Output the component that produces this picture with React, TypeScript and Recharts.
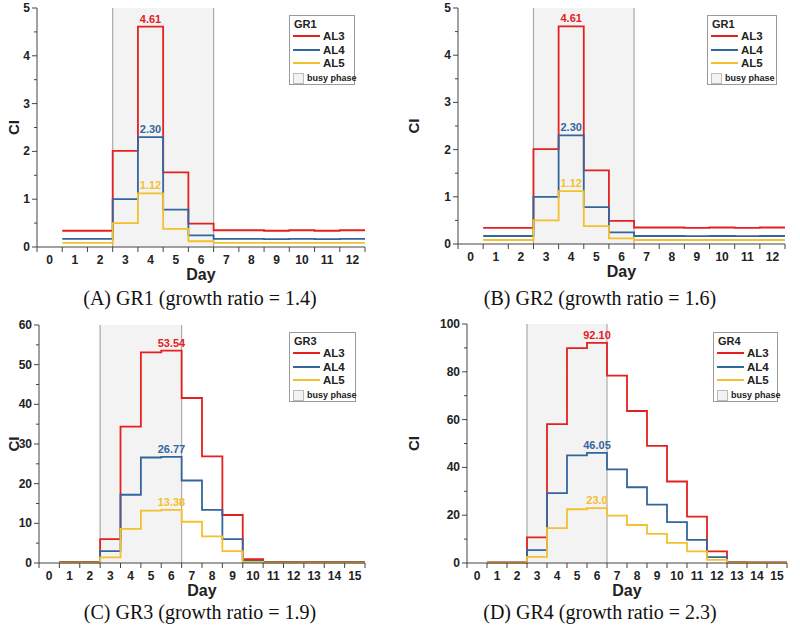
import React from "react";
import {
  LineChart,
  Line,
  XAxis,
  YAxis,
  ReferenceArea,
  ReferenceLine,
  ReferenceDot,
} from "recharts";

// CI values per day (day 1 .. n)
const gr1Al3 = [0.34, 0.34, 2.01, 4.61, 1.56, 0.49, 0.35, 0.35, 0.34, 0.35, 0.34, 0.35];
const gr1Al4 = [0.17, 0.17, 1.0, 2.3, 0.78, 0.245, 0.17, 0.17, 0.165, 0.17, 0.165, 0.17];
const gr1Al5 = [0.085, 0.085, 0.5, 1.12, 0.38, 0.12, 0.085, 0.085, 0.085, 0.085, 0.085, 0.085];

const gr3Al3 = [0.3, 0.3, 6.0, 34.4, 53.1, 53.54, 41.6, 26.9, 12.1, 1.0, 0.3, 0.3, 0.3, 0.3, 0.3];
const gr3Al4 = [0.15, 0.15, 3.0, 17.2, 26.6, 26.77, 20.8, 13.4, 6.0, 0.5, 0.15, 0.15, 0.15, 0.15, 0.15];
const gr3Al5 = [0.08, 0.08, 1.4, 8.6, 13.2, 13.38, 10.4, 6.7, 3.0, 0.25, 0.08, 0.08, 0.08, 0.08, 0.08];

const gr4Al3 = [0.3, 0.3, 10.7, 58.1, 89.9, 92.1, 78.4, 63.6, 49.0, 34.1, 19.4, 4.9, 0.4, 0.3, 0.3];
const gr4Al4 = [0.15, 0.15, 5.4, 29.2, 45.0, 46.05, 39.2, 31.7, 24.4, 17.1, 9.7, 2.5, 0.2, 0.15, 0.15];
const gr4Al5 = [0.08, 0.08, 2.6, 14.6, 22.5, 23.0, 19.8, 15.9, 12.2, 8.4, 4.9, 1.3, 0.1, 0.08, 0.08];

const peakLabelsGr1 = ["4.61", "2.30", "1.12"];
const peakLabelsGr3 = ["53.54", "26.77", "13.38"];
const peakLabelsGr4 = ["92.10", "46.05", "23.0"];

const busyPhase = [2.5, 6.5];
const seriesNames = ["AL3", "AL4", "AL5"];
const seriesKeys = ["al3", "al4", "al5"];
const COLORS = ["#e3211f", "#33669d", "#f4c02c"];

const SANS = "'Liberation Sans', Arial, sans-serif";

const panels = [
  {
    key: "A", caption: "(A) GR1 (growth ratio = 1.4)", legendTitle: "GR1",
    al3: gr1Al3, al4: gr1Al4, al5: gr1Al5, labels: peakLabelsGr1, peakDay: 4,
    yMax: 5, yStep: 1, pos: { x: 0, y: 0 },
    plot: { left: 37, right: 365, top: 8, bottom: 247 },
    legend: { x: 289, y: 15, w: 66 }, captionY: 287,
  },
  {
    key: "B", caption: "(B) GR2 (growth ratio = 1.6)", legendTitle: "GR1",
    al3: gr1Al3, al4: gr1Al4, al5: gr1Al5, labels: peakLabelsGr1, peakDay: 4,
    yMax: 5, yStep: 1, pos: { x: 400, y: 0 },
    plot: { left: 58, right: 385, top: 8, bottom: 244 },
    legend: { x: 307, y: 15, w: 70 }, captionY: 287,
  },
  {
    key: "C", caption: "(C) GR3 (growth ratio = 1.9)", legendTitle: "GR3",
    al3: gr3Al3, al4: gr3Al4, al5: gr3Al5, labels: peakLabelsGr3, peakDay: 6,
    yMax: 60, yStep: 10, pos: { x: 0, y: 320 },
    plot: { left: 39, right: 365, top: 5, bottom: 243 },
    legend: { x: 289, y: 12, w: 67 }, captionY: 601,
  },
  {
    key: "D", caption: "(D) GR4 (growth ratio = 2.3)", legendTitle: "GR4",
    al3: gr4Al3, al4: gr4Al4, al5: gr4Al5, labels: peakLabelsGr4, peakDay: 6,
    yMax: 100, yStep: 20, pos: { x: 400, y: 320 },
    plot: { left: 67, right: 387, top: 4, bottom: 243 },
    legend: { x: 313, y: 12, w: 65 }, captionY: 601,
  },
];

function XTick(props: any) {
  const { x, y, payload } = props;
  if (Number.isInteger(payload.value)) {
    return (
      <text x={x} y={y + 12} textAnchor="middle" fontSize={12} fontWeight={700} fill="#222" fontFamily={SANS}>
        {payload.value}
      </text>
    );
  }
  return <line x1={x} x2={x} y1={y - 5} y2={y} stroke="#444" strokeWidth={1} />;
}

function TopTick(props: any) {
  const { x, y, payload } = props;
  if (Number.isInteger(payload.value)) return null;
  return <line x1={x} x2={x} y1={y} y2={y + 4} stroke="#444" strokeWidth={1} />;
}

function makeYTick(step: number) {
  return function YTick(props: any) {
    const { x, y, payload } = props;
    const major = Math.abs(payload.value / step - Math.round(payload.value / step)) < 1e-6;
    if (!major) return <line x1={x + 2} x2={x + 5} y1={y} y2={y} stroke="#444" />;
    return (
      <g>
        <line x1={x} x2={x + 5} y1={y} y2={y} stroke="#444" />
        <text x={x - 2} y={y + 4} textAnchor="end" fontSize={12} fontWeight={700} fill="#222" fontFamily={SANS}>
          {payload.value}
        </text>
      </g>
    );
  };
}

function makeRightTick(step: number) {
  return function RightTick(props: any) {
    const { x, y, payload } = props;
    const major = Math.abs(payload.value / step - Math.round(payload.value / step)) < 1e-6;
    return <line x1={x - (major ? 5 : 3)} x2={x} y1={y} y2={y} stroke="#444" />;
  };
}

function YTitle(props: any) {
  const { viewBox } = props;
  const cx = viewBox.x + 13;
  const cy = viewBox.y + viewBox.height / 2;
  return (
    <text x={cx} y={cy} transform={`rotate(-90, ${cx}, ${cy})`} textAnchor="middle" dominantBaseline="central"
      fontSize={15} fontWeight={700} fill="#222" fontFamily={SANS}>
      CI
    </text>
  );
}

function XTitle(props: any) {
  const { viewBox } = props;
  return (
    <text x={viewBox.x + viewBox.width / 2} y={viewBox.y + 33} textAnchor="middle" fontSize={16} fontWeight={700}
      fill="#222" fontFamily={SANS}>
      Day
    </text>
  );
}

// rows of the legend box: title, three series, busy phase swatch
const legendRowTops = [2, 14, 27.5, 41, 56];

function LegendBox({ title, box }: { title: string; box: { x: number; y: number; w: number } }) {
  const row = { position: "absolute" as const, left: 3, display: "flex", alignItems: "center", lineHeight: "12px", height: 12 };
  return (
    <div style={{
      position: "absolute", left: box.x, top: box.y, width: box.w, height: 70, boxSizing: "border-box",
      border: "1px solid #9a9a9a", background: "#fff", fontFamily: SANS, fontWeight: 700, color: "#222",
      whiteSpace: "nowrap",
    }}>
      <div style={{ ...row, left: 4, top: legendRowTops[0], fontSize: 11 }}>{title}</div>
      {seriesNames.map((n, i) => (
        <div key={n} style={{ ...row, top: legendRowTops[i + 1], fontSize: 11.5 }}>
          <span style={{ display: "inline-block", width: 27, height: 2, background: COLORS[i], marginRight: 3 }} />
          {n}
        </div>
      ))}
      <div style={{ ...row, top: legendRowTops[4], fontSize: 9 }}>
        <span style={{ display: "inline-block", width: 9, height: 9, border: "1px solid #bbb", background: "#f3f3f3", marginRight: 3 }} />
        busy phase
      </div>
    </div>
  );
}

function Panel({ cfg }: { cfg: any }) {
  const n = cfg.al3.length;
  const data = cfg.al3.map((v: number, i: number) => ({ x: i + 0.5, al3: v, al4: cfg.al4[i], al5: cfg.al5[i] }));
  data.push({ x: n + 0.5, al3: cfg.al3[n - 1], al4: cfg.al4[n - 1], al5: cfg.al5[n - 1] });

  const xTicks: number[] = [];
  for (let d = 0; d <= n; d++) xTicks.push(d);
  for (let d = 0; d <= n; d++) xTicks.push(d - 0.5);
  xTicks.push(n + 0.5);
  const yTicks: number[] = [];
  for (let v = 0; v <= cfg.yMax + 1e-9; v += cfg.yStep / 2) yTicks.push(+v.toFixed(3));

  const height = cfg.plot.bottom + 40;
  const peakIdx = cfg.peakDay - 1;

  return (
    <div style={{ position: "absolute", left: cfg.pos.x, top: cfg.pos.y, width: 400, height: 315 }}>
      <LineChart width={400} height={height} data={data}
        margin={{ top: cfg.plot.top, right: 400 - cfg.plot.right, left: 0, bottom: 0 }}>
        <XAxis dataKey="x" type="number" domain={[-0.5, n + 0.5]} ticks={xTicks} interval={0}
          tick={<XTick />} tickLine={false} tickSize={5} tickMargin={0} height={40}
          axisLine={{ stroke: "#444" }} label={<XTitle />} />
        <XAxis xAxisId="top" orientation="top" dataKey="x" type="number" domain={[-0.5, n + 0.5]} ticks={xTicks}
          interval={0} tick={<TopTick />} tickLine={false} tickSize={0} tickMargin={0} height={0}
          axisLine={{ stroke: "#444" }} />
        <YAxis type="number" domain={[0, cfg.yMax]} ticks={yTicks} interval={0} width={cfg.plot.left}
          tick={makeYTick(cfg.yStep)} tickLine={false} tickSize={5} tickMargin={0}
          axisLine={{ stroke: "#444" }} label={<YTitle />} />
        <YAxis yAxisId="right" orientation="right" type="number" domain={[0, cfg.yMax]} ticks={yTicks} interval={0}
          width={0} tick={makeRightTick(cfg.yStep)} tickLine={false} tickSize={0} tickMargin={0}
          axisLine={{ stroke: "#444" }} />
        <ReferenceArea x1={busyPhase[0]} x2={busyPhase[1]} fill="#f3f3f3" fillOpacity={1} stroke="none" />
        <ReferenceLine x={busyPhase[0]} stroke="#aaaaaa" strokeWidth={1.2} />
        <ReferenceLine x={busyPhase[1]} stroke="#aaaaaa" strokeWidth={1.2} />
        {seriesKeys.map((k, i) => (
          <Line key={k} type="stepAfter" dataKey={k} stroke={COLORS[i]} strokeWidth={1.8} dot={false}
            activeDot={false} isAnimationActive={false} />
        ))}
        {seriesKeys.map((k, i) => (
          <ReferenceDot key={"p" + k} x={cfg.peakDay} y={cfg[k][peakIdx]} r={1} fill="none" stroke="none"
            label={{ value: cfg.labels[i], position: "top", offset: 3, fill: COLORS[i], fontSize: 11,
              fontWeight: 700, fontFamily: SANS }} />
        ))}
      </LineChart>
      <LegendBox title={cfg.legendTitle} box={cfg.legend} />
      <div style={{
        position: "absolute", left: 0, top: cfg.captionY - cfg.pos.y, width: 400, textAlign: "center",
        fontFamily: "'Liberation Serif', 'Times New Roman', serif", fontSize: 20, color: "#111",
      }}>
        {cfg.caption}
      </div>
    </div>
  );
}

export default function App() {
  return (
    <div style={{ position: "absolute", left: 0, top: 0, width: 800, height: 635, background: "#fff" }}>
      <style>{`.recharts-surface { overflow: visible; } .recharts-wrapper { overflow: visible; }`}</style>
      {panels.map((p) => (
        <Panel key={p.key} cfg={p} />
      ))}
    </div>
  );
}
